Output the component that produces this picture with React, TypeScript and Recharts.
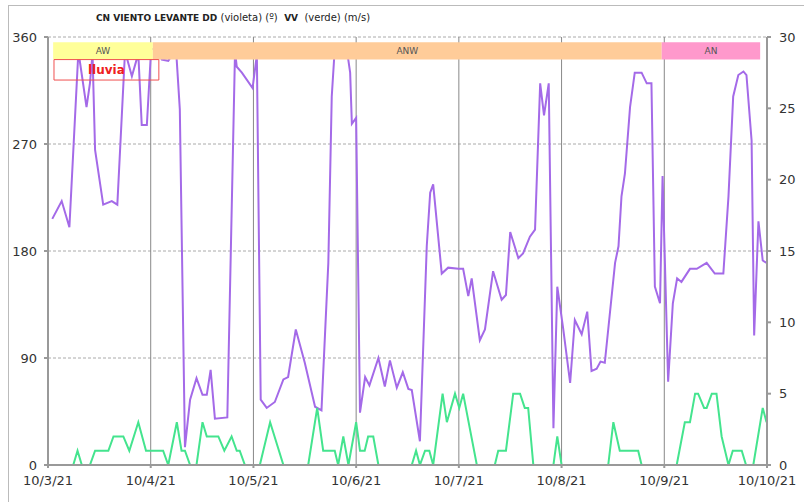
import React from 'react';
import { LineChart, Line, XAxis, YAxis, CartesianGrid, ReferenceArea, ReferenceLine } from 'recharts';

// Hours since 10/3/21 00:00 and wind direction (degrees)
const dirHours = [1, 3.2, 5, 7.1, 9, 9.8, 10.4, 11, 12.9, 14.9, 16.2, 18, 19.6, 21.1, 21.9, 23.1, 24.1, 25.5, 26.6, 28.1, 29.2, 30, 30.8, 32, 33.2, 34.7, 36.1, 37.1, 38, 39, 41.9, 43.7, 44.1, 45.3, 47.8, 48.8, 49.7, 51.1, 53, 55, 56.1, 57.9, 60, 62.4, 63.9, 65.5, 66.3, 67, 69.8, 70.6, 71, 72, 72.9, 74.1, 75.1, 77.2, 78.7, 79.9, 81.5, 82.9, 84.2, 85, 86.9, 88.5, 89.3, 90, 92, 93.5, 95.9, 97, 98.2, 99, 100.9, 102.1, 104, 106, 107, 108, 109.9, 111, 112.6, 113.8, 115, 115.9, 117, 118.1, 119, 120.4, 122, 123.1, 124.7, 126, 127, 128.2, 129.1, 130.1, 132.5, 133.3, 134, 134.8, 136, 137.1, 138.7, 139.9, 141, 141.8, 143, 143.6, 144.9, 146, 147, 148, 150, 151.6, 153.9, 155.8, 157.8, 159, 160.1, 161.3, 162.5, 163.2, 164.4, 165, 166, 167, 167.9];
const dirValues = [207, 222, 200, 348, 301, 321, 346, 265, 219, 222, 219, 348, 327, 346, 286, 286, 350, 350, 341, 340, 346, 345, 299, 15, 55, 73, 59, 59, 80, 39, 40, 348, 335, 330, 317, 345, 55, 48, 53, 72, 74, 114, 86, 49, 46, 170, 310, 350, 350, 330, 287, 292, 44, 74, 67, 90, 66, 88, 65, 78, 64, 63, 20, 184, 229, 236, 161, 166, 165, 165, 142, 157, 105, 114, 163, 139, 143, 196, 174, 178, 192, 198, 321, 294, 321, 31, 150, 114, 69, 122, 110, 129, 79, 81, 87, 86, 170, 184, 226, 245, 301, 330, 330, 321, 321, 150, 136, 243, 70, 136, 157, 154, 165, 165, 170, 161, 161, 226, 310, 328, 331, 328, 273, 109, 205, 172, 170];

// Hours and wind speed (m/s)
const vvHours = [1, 5.9, 6.9, 7.9, 9.8, 11, 14.1, 15.3, 17.6, 19, 21.1, 22.9, 26.9, 28.1, 30.1, 31.2, 32, 33.2, 34.7, 36.1, 37.1, 39.8, 41.2, 42.9, 44.1, 44.8, 46, 49.5, 51.9, 55, 60.8, 62.9, 64.3, 67, 67.8, 69, 70.2, 72, 72.9, 74, 74.8, 76, 77.2, 85, 86, 86.9, 88.1, 89.1, 90, 92.2, 93.2, 95.1, 96.1, 97, 100.2, 104.4, 105.2, 107, 108.7, 110.3, 111.4, 112.2, 113.4, 118.1, 119, 120, 130.9, 132.1, 133.6, 137.9, 138.7, 146.9, 148.8, 150, 151.2, 151.9, 153.3, 153.9, 155.1, 156.2, 157.4, 159, 160, 162.1, 163.1, 164.8, 167, 167.9];
const vvValues = [0, 0, 1, 0, 0, 1, 1, 2, 2, 1, 3, 1, 1, 0, 3, 1, 1, 0, 0, 3, 2, 2, 1, 2, 1, 1, 0, 0, 3, 0, 0, 4, 1, 1, 0, 2, 0, 3, 1, 1, 2, 2, 0, 0, 1, 0, 1, 1, 0, 5, 3, 5, 4, 5, 0, 0, 1, 1, 5, 5, 4, 4, 0, 0, 2, 0, 0, 3, 1, 1, 0, 0, 3, 3, 5, 5, 4, 4, 5, 5, 2, 0, 1, 1, 0, 0, 4, 3];

const dayTicks = [0, 24, 48, 72, 96, 120, 144, 168];
const dayLabels = ['10/3/21', '10/4/21', '10/5/21', '10/6/21', '10/7/21', '10/8/21', '10/9/21', '10/10/21'];
const dirTicks = [0, 90, 180, 270, 360];
const vvTicks = [0, 5, 10, 15, 20, 25, 30];

const bandNames = ['AW', 'ANW', 'AN'];
const bandStarts = [1.2, 24.5, 143.4];
const bandEnds = [24.5, 143.4, 166.4];
const bandColors = ['#ffff99', '#ffcc99', '#ff99cc'];

const dirData = dirHours.map((h, i) => ({ h, v: dirValues[i] }));
const vvData = vvHours.map((h, i) => ({ h, v: vvValues[i] }));

const font = 'DejaVu Sans, Verdana, sans-serif';
const tickStyle = { fontSize: 13, fill: '#333', fontFamily: font };

export default function App() {
  return (
    <div style={{ position: 'absolute', left: 0, top: 0, width: 804, height: 502, background: '#fff', overflow: 'hidden', fontFamily: font }}>
      <div style={{ position: 'absolute', left: 8, top: 5, right: -2, bottom: -2, borderTop: '1px solid #bbb', borderLeft: '1px solid #bbb' }} />
      <div style={{ position: 'absolute', left: 0, top: 0 }}>
        <LineChart width={804} height={502} margin={{ top: 37, right: 8, bottom: 7, left: 8 }}>
          <CartesianGrid yAxisId="left" vertical={false} stroke="#aaa" strokeDasharray="3 2" />
          {dayTicks.slice(1, -1).map((d) => (
            <ReferenceLine key={d} x={d} yAxisId="left" stroke="#888" strokeWidth={1} />
          ))}
          <XAxis
            dataKey="h"
            type="number"
            domain={[0, 168]}
            ticks={dayTicks}
            tickFormatter={(v: number) => dayLabels[dayTicks.indexOf(v)]}
            tick={tickStyle}
            height={30}
            tickSize={3}
            tickMargin={8}
            stroke="#999"
            strokeWidth={2}
            allowDataOverflow
          />
          <XAxis
            xAxisId="top"
            orientation="top"
            dataKey="h"
            type="number"
            domain={[0, 168]}
            ticks={dayTicks}
            tick={false}
            height={0}
            tickSize={3}
            stroke="#999"
            strokeWidth={2}
          />
          <YAxis
            yAxisId="left"
            domain={[0, 360]}
            ticks={dirTicks}
            width={40}
            tick={tickStyle}
            tickSize={4}
            tickMargin={7}
            stroke="#999"
            strokeWidth={2}
            allowDataOverflow
          />
          <YAxis
            yAxisId="right"
            orientation="right"
            domain={[0, 30]}
            ticks={vvTicks}
            width={29}
            tick={tickStyle}
            tickSize={4}
            tickMargin={8}
            stroke="#999"
            strokeWidth={2}
            allowDataOverflow
          />
          <Line
            data={dirData}
            yAxisId="left"
            dataKey="v"
            type="linear"
            stroke="#a46ae8"
            strokeWidth={2}
            dot={false}
            isAnimationActive={false}
          />
          <Line
            data={vvData}
            yAxisId="right"
            dataKey="v"
            type="linear"
            stroke="#44e48e"
            strokeWidth={2}
            dot={false}
            isAnimationActive={false}
          />
          {bandNames.map((name, i) => (
            <ReferenceArea
              key={name}
              yAxisId="left"
              x1={bandStarts[i]}
              x2={bandEnds[i]}
              y1={341}
              y2={355.5}
              fill={bandColors[i]}
              fillOpacity={1}
              stroke="none"
              zIndex={1500}
              label={{ value: name, position: 'center', fontSize: 9, fill: '#555', fontFamily: font }}
            />
          ))}
          <ReferenceArea
            yAxisId="left"
            x1={1.4}
            x2={25.9}
            y1={323.8}
            y2={341}
            fill="none"
            stroke="#f05050"
            strokeWidth={1}
            zIndex={1500}
            label={{ value: 'lluvia', position: 'center', fontSize: 12, fontWeight: 'bold', fill: '#ee2020', fontFamily: font }}
          />
        </LineChart>
      </div>
      <div style={{ position: 'absolute', left: 96, top: 12, fontSize: 10, color: '#222', whiteSpace: 'pre', lineHeight: '12px' }}>
        <b style={{ fontSize: 9 }}>CN VIENTO LEVANTE DD</b>
        {' (violeta) (º)  '}
        <b style={{ fontSize: 9 }}>VV</b>
        {'  (verde) (m/s)'}
      </div>
    </div>
  );
}
